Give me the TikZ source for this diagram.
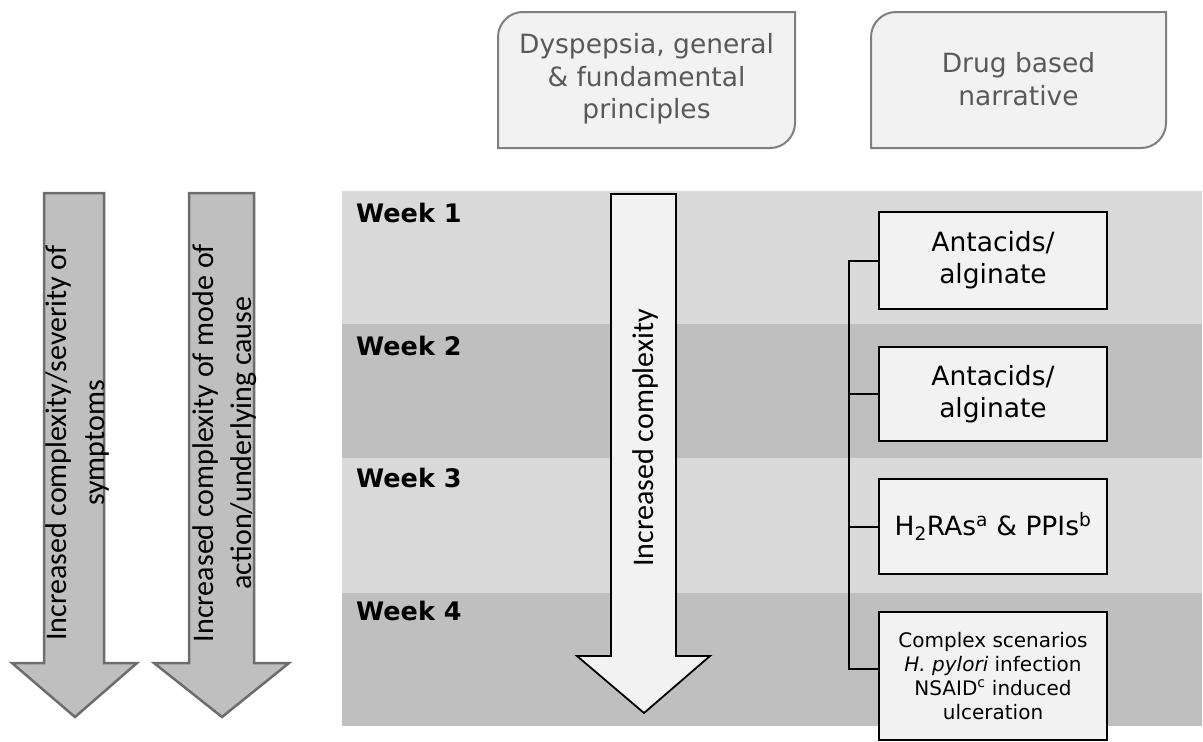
\documentclass[tikz,border=0pt]{standalone}
\usepackage{fontspec}
\setmainfont{DejaVu Sans}
\newfontfamily\calfont{Carlito}
\definecolor{bandlight}{HTML}{D9D9D9}
\definecolor{banddark}{HTML}{BFBFBF}
\definecolor{boxfill}{HTML}{F2F2F2}
\definecolor{topline}{HTML}{7F7F7F}
\definecolor{toptext}{HTML}{595959}
\definecolor{arrowline}{HTML}{6D6D6D}
\tikzset{
  week/.style={anchor=west, inner sep=0, font=\bfseries\fontsize{25.5}{30}\selectfont},
  leftarrow/.style={draw=arrowline, line width=2.5, fill=banddark, line join=miter},
  midarrow/.style={draw=black, line width=1.8, fill=boxfill, line join=miter},
  arrowtext/.style={rotate=90, inner sep=0, align=center, font=\calfont\fontsize{30}{38}\selectfont},
  topshape/.style={draw=topline, line width=2, fill=boxfill},
  toptxt/.style={inner sep=0, align=center, text=toptext, font=\fontsize{26.5}{32.5}\selectfont},
  drugbox/.style={draw=black, line width=2.5, fill=boxfill, minimum width=228, inner sep=0, align=center, font=\fontsize{26.5}{32}\selectfont},
  conn/.style={draw=black, line width=2}
}
\begin{document}
\begin{tikzpicture}[x=1pt,y=-1pt]
\useasboundingbox (0,0) rectangle (1203,742);
% week bands
\fill[bandlight] (342,191) rectangle (1202,324);
\fill[banddark] (342,324) rectangle (1202,458);
\fill[bandlight] (342,458) rectangle (1202,593);
\fill[banddark] (342,593) rectangle (1202,726);
\node[week] (w1) at (356,213) {Week 1};
\node[week] (w2) at (356,346) {Week 2};
\node[week] (w3) at (356,478) {Week 3};
\node[week] (w4) at (356,611) {Week 4};
% top boxes
\draw[topshape] (498,148) -- (498,37) .. controls (498,23.2) and (509.2,12) .. (523,12) -- (795,12) -- (795,123) .. controls (795,136.8) and (783.8,148) .. (770,148) -- cycle;
\node[toptxt] (ta) at (646.5,79) {Dyspepsia, general\\\& fundamental\\principles};
\draw[topshape] (871,148) -- (871,37) .. controls (871,23.2) and (882.2,12) .. (896,12) -- (1166,12) -- (1166,123) .. controls (1166,136.8) and (1154.8,148) .. (1141,148) -- cycle;
\node[toptxt] (tb) at (1018.5,79) {Drug based\\narrative};
% left arrows
\draw[leftarrow] (44,193) -- (104,193) -- (104,663) -- (137,663) -- (75,717) -- (12,663) -- (44,663) -- cycle;
\node[arrowtext] (a1) at (78,443) {Increased complexity/severity of\\symptoms};
\draw[leftarrow] (189,193) -- (254,193) -- (254,663) -- (289,663) -- (222,717) -- (154,663) -- (189,663) -- cycle;
\node[arrowtext] (a2) at (225,443) {Increased complexity of mode of\\action/underlying cause};
% middle arrow
\draw[midarrow] (611,194) -- (676,194) -- (676,656) -- (710,656) -- (644,713) -- (577,656) -- (611,656) -- cycle;
\node[arrowtext] (a3) at (645,438) {Increased complexity};
% drug boxes
\node[drugbox, minimum height=97] (b1) at (993,260.5) {Antacids/\\alginate};
\node[drugbox, minimum height=94] (b2) at (993,394) {Antacids/\\alginate};
\node[drugbox, minimum height=95] (b3) at (993,526.5) {H\textsubscript{2}RAs\textsuperscript{a} \& PPIs\textsuperscript{b}};
\node[drugbox, minimum height=128, font=\fontsize{20}{24}\selectfont] (b4) at (993,676) {Complex scenarios\\\textit{H. pylori} infection\\NSAID\textsuperscript{c} induced\\ulceration};
% connectors
\coordinate (spx) at (849,0);
\draw[conn] (b1.west) -- (b1.west -| spx) -- ([yshift=7pt]b4.west -| spx) -- ([yshift=7pt]b4.west);
\draw[conn] (b2.west) -- (b2.west -| spx);
\draw[conn] (b3.west) -- (b3.west -| spx);
\end{tikzpicture}
\end{document}
